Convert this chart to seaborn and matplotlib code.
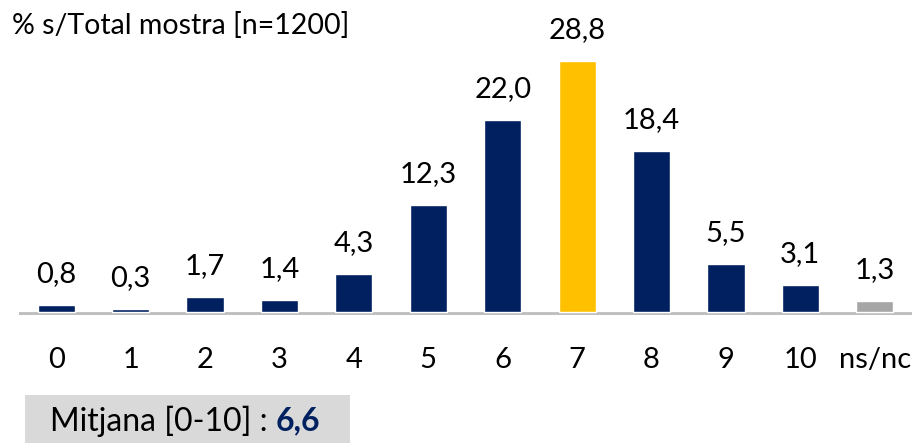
import numpy as np
import pandas as pd
import seaborn as sns
import matplotlib.pyplot as plt
from matplotlib.patches import Rectangle

# data
categories = ["0", "1", "2", "3", "4", "5", "6", "7", "8", "9", "10", "ns/nc"]
values = [0.8, 0.3, 1.7, 1.4, 4.3, 12.3, 22.0, 28.8, 18.4, 5.5, 3.1, 1.3]
value_labels = ["0,8", "0,3", "1,7", "1,4", "4,3", "12,3", "22,0", "28,8", "18,4", "5,5", "3,1", "1,3"]
title_text = "% s/Total mostra [n=1200]"
mean_label = "Mitjana [0-10] : "
mean_value = "6,6"

navy = "#002060"
yellow = "#FFC000"
grey = "#A6A6A6"
bar_colors = [yellow if c == "7" else grey if c == "ns/nc" else navy for c in categories]

sns.set_theme(style="white")
plt.rcParams["font.family"] = ["Lato", "DejaVu Sans"]

df = pd.DataFrame({"cat": categories, "val": values})

fig = plt.figure(figsize=(9.15, 4.43), dpi=100)
ax = fig.add_axes([19 / 915, 128 / 443, 893 / 915, 315 / 443])

sns.barplot(data=df, x="cat", y="val", hue="cat", palette=bar_colors,
            order=categories, hue_order=categories, width=0.5,
            legend=False, saturation=1, ax=ax, zorder=3)

ax.set_xlim(-0.5, len(categories) - 0.5)
ax.set_ylim(-0.35, 315 / 8.72 - 0.35)
for s in ["top", "right", "left", "bottom"]:
    ax.spines[s].set_visible(False)
# baseline sits just under the bars
ax.axhline(-0.2, color="#BFBFBF", linewidth=3.5, zorder=2)
ax.set_yticks([])
ax.set_xlabel("")
ax.set_ylabel("")
ax.tick_params(axis="x", length=0, pad=23, labelsize=21, labelcolor="black")

for i, (v, lab) in enumerate(zip(values, value_labels)):
    ax.annotate(lab, (i, v), xytext=(0, 13), textcoords="offset points",
                ha="center", va="bottom", fontsize=21, color="black")

fig.text(12 / 915, 1 - 26 / 443, title_text, ha="left", va="center",
         fontsize=20.5, color="black")

# mean box
fig.patches.append(Rectangle((25 / 915, 0), 325 / 915, 48 / 443,
                             transform=fig.transFigure, facecolor="#D9D9D9",
                             edgecolor="none", zorder=0))
t = fig.text(50 / 915, 1 - 421 / 443, mean_label, ha="left", va="center",
             fontsize=23, color="black")
fig.canvas.draw()
bb = t.get_window_extent()
fig.text(bb.x1 / 915, 1 - 421 / 443, mean_value, ha="left", va="center",
         fontsize=23, fontweight="bold", color=navy)

fig.savefig("out.png", dpi=100)
